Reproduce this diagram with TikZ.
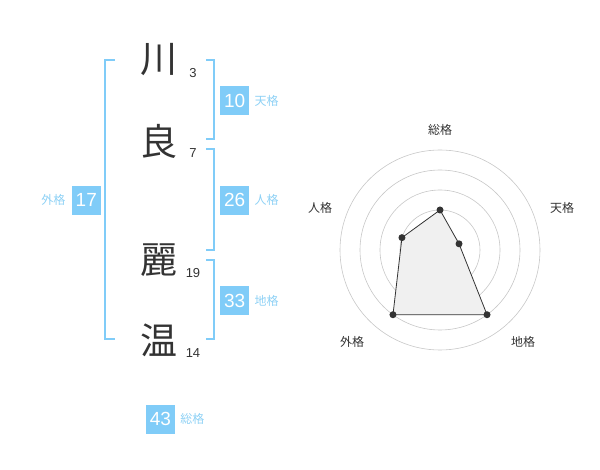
\documentclass[tikz,border=0pt]{standalone}
\usepackage{fontspec}
\setmainfont{Liberation Sans}
\newfontfamily\cjk{Noto Sans CJK JP}
\usetikzlibrary{positioning}
\definecolor{cb}{HTML}{80CCF8}
\definecolor{ct}{HTML}{8ED1F5}
\definecolor{cd}{HTML}{333333}

\begin{document}
\begin{tikzpicture}[x=1pt,y=-1pt,
    kanji/.style={font=\cjk\fontsize{37}{37}\selectfont,text=cd,inner sep=0pt},
    strokes/.style={font=\fontsize{13}{13}\selectfont,text=cd,inner sep=0pt},
    numbox/.style={fill=cb,text=white,minimum size=29pt,inner sep=0pt,font=\fontsize{19}{19}\selectfont},
    kaku/.style={font=\cjk\fontsize{12}{12}\selectfont,text=ct,inner sep=0pt},
    brace/.style={draw=cb,line width=2pt},
    ring/.style={draw=black!22,line width=0.6pt},
    axislabel/.style={font=\cjk\fontsize{12}{12}\selectfont,text=cd,inner sep=0pt},
    vertex/.style={circle,fill=cd,inner sep=0pt,minimum size=7pt},
  ]
  \useasboundingbox (0,0) rectangle (600,470);

  % name characters and stroke counts
  \node[kanji]   (k1) at (159,60)  {川};
  \node[strokes] (s1) at (193,73)  {3};
  \node[kanji]   (k2) at (159,141) {良};
  \node[strokes] (s2) at (193,153) {7};
  \node[kanji]   (k3) at (159,260) {麗};
  \node[strokes] (s3) at (193,273) {19};
  \node[kanji]   (k4) at (159,340) {温};
  \node[strokes] (s4) at (193,353) {14};

  % brackets
  \draw[brace] (115,60) -- (105,60) -- (105,339.5) -- (115,339.5);
  \draw[brace] (206,60) -- (214,60) -- (214,139.5) -- (206,139.5);
  \draw[brace] (206,149.5) -- (214,149.5) -- (214,250) -- (206,250);
  \draw[brace] (206,260) -- (214,260) -- (214,339.5) -- (206,339.5);

  % totals
  \node[numbox] (ten) at (234.7,100.5) {10};
  \node[kaku, right=5pt of ten] {天格};
  \node[numbox] (jin) at (234.7,200.3) {26};
  \node[kaku, right=5pt of jin] {人格};
  \node[numbox] (chi) at (234.7,300.5) {33};
  \node[kaku, right=5pt of chi] {地格};
  \node[numbox] (gai) at (86.3,200.3) {17};
  \node[kaku, left=6pt of gai] {外格};
  \node[numbox] (sou) at (160.5,419.2) {43};
  \node[kaku, right=5pt of sou] {総格};

  % radar chart
  \begin{scope}[shift={(440,250)},yscale=-1]
    \foreach \r in {20,40,60,80,100}
      \draw[ring] (0,0) circle (\r);
    \fill[black!22] (0,0) circle (3.5);
    \foreach \a/\r/\n in {90/40/ps, 18/20/pt, -54/80/pc, -126/80/pg, 162/40/pj}
      \coordinate (\n) at (\a:\r);
    \draw[fill=black!6,draw=cd,line width=0.8pt] (ps) -- (pt) -- (pc) -- (pg) -- (pj) -- cycle;
    \foreach \n in {ps,pt,pc,pg,pj}
      \node[vertex] at (\n) {};
  \end{scope}
  \node[axislabel] (ls) at (440,130) {総格};
  \node[axislabel] (lt) at (562,208) {天格};
  \node[axislabel] (lj) at (320,208) {人格};
  \node[axislabel] (lc) at (523,342) {地格};
  \node[axislabel] (lg) at (352,342) {外格};
\end{tikzpicture}
\end{document}
